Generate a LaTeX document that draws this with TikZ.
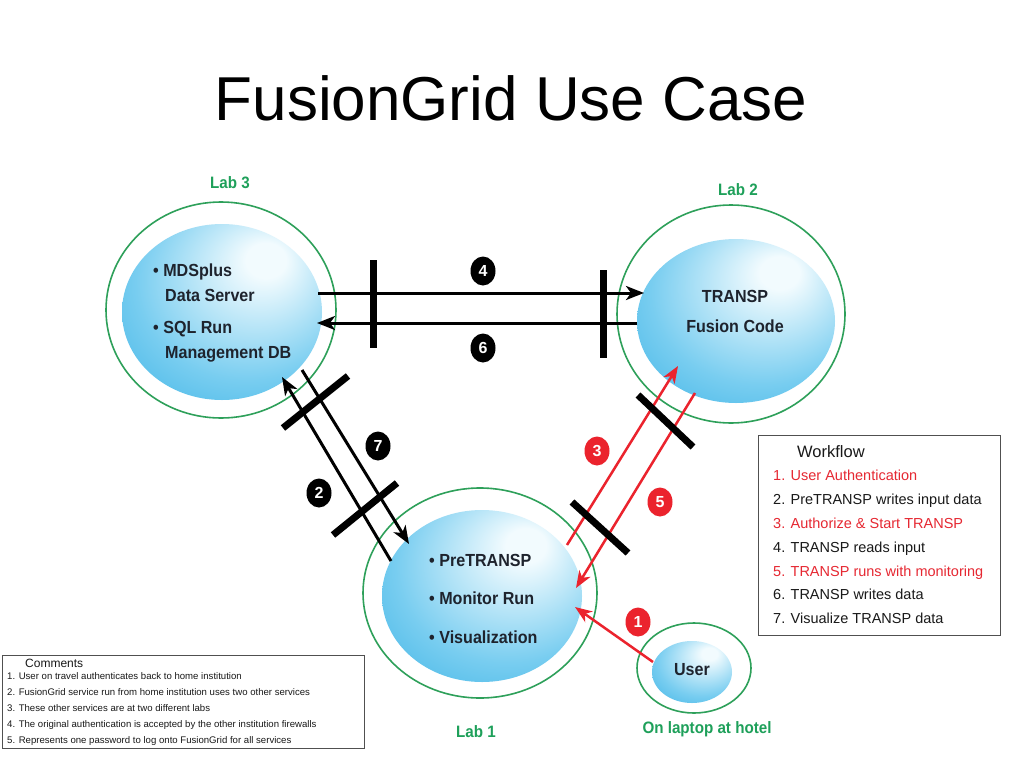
\documentclass[tikz,border=0pt]{standalone}
\usepackage{fontspec}
\setmainfont{Liberation Sans}
\newfontfamily\bubfont{Liberation Sans}[FakeStretch=0.92]
\usetikzlibrary{shapes.geometric,arrows.meta}
\definecolor{ringgreen}{RGB}{46,160,90}
\definecolor{labgreen}{RGB}{30,160,90}
\definecolor{bubedge}{RGB}{35,168,225}
\definecolor{bubmid}{RGB}{120,205,240}
\definecolor{bubhi}{RGB}{242,251,254}
\definecolor{arrred}{RGB}{235,35,45}
\definecolor{txtred}{RGB}{230,40,50}
\definecolor{bubtext}{RGB}{30,35,45}
\definecolor{boxgray}{RGB}{80,80,80}
\pgfdeclareradialshading{bubble}{\pgfpoint{12bp}{16bp}}{color(0bp)=(bubhi); color(5bp)=(bubhi); color(28bp)=(bubmid); color(50bp)=(bubedge); color(60bp)=(bubedge)}
\begin{document}
\begin{tikzpicture}[x=1pt,y=-1pt,
  labring/.style={ellipse,draw=ringgreen,line width=1.6pt,inner sep=0pt},
  bub/.style={ellipse,shading=bubble,inner sep=0pt},
  btext/.style={font=\bubfont\bfseries\fontsize{17.5}{17.5}\selectfont,text=bubtext,inner sep=0pt,anchor=base west},
  ctext/.style={btext,anchor=base},
  labname/.style={font=\bubfont\bfseries\fontsize{16.5}{16.5}\selectfont,text=labgreen,inner sep=0pt,anchor=base},
  blackarrow/.style={line width=3pt,-{Stealth[length=18pt,width=14pt,inset=5pt]}},
  redarrow/.style={draw=arrred,line width=2.5pt,-{Stealth[length=17pt,width=13pt,inset=5pt]}},
  barrier/.style={line width=7pt},
  numb/.style={ellipse,fill=black,text=white,minimum width=25pt,minimum height=29pt,inner sep=0pt,font=\bfseries\fontsize{16}{16}\selectfont},
  numr/.style={numb,fill=arrred},
  wfitem/.style={font=\fontsize{14.5}{14.5}\selectfont,inner sep=0pt,anchor=base west,text=black!90},
  wfred/.style={wfitem,text=txtred},
  cmtitem/.style={font=\fontsize{9.6}{9.6}\selectfont,inner sep=0pt,anchor=base west,text=black!90}
]
\fill[white] (0,0) rectangle (1024,768);
\useasboundingbox (0,0) rectangle (1024,768);

% title
\node[font=\fontsize{62}{62}\selectfont,anchor=base,inner sep=0pt] (title) at (511,120) {FusionGrid Use Case};

% rings and bubbles
\node[labring,minimum width=230pt,minimum height=216pt] (ring3) at (221,310) {};
\node[labring,minimum width=228pt,minimum height=218pt] (ring2) at (731,314) {};
\node[labring,minimum width=234pt,minimum height=210pt] (ring1) at (480,593) {};
\node[labring,minimum width=114pt,minimum height=90pt] (ringu) at (694,668) {};
\node[bub,minimum width=200pt,minimum height=176pt] (lab3) at (222,312) {};
\node[bub,minimum width=198pt,minimum height=164pt] (lab2) at (736,321) {};
\node[bub,minimum width=200pt,minimum height=172pt] (lab1) at (482,596) {};
\node[bub,minimum width=80pt,minimum height=62pt] (user) at (692,672) {};

% lab labels
\node[labname] (l3) at (230,188) {Lab 3};
\node[labname] (l2) at (738,195) {Lab 2};
\node[labname] (l1) at (476,737) {Lab 1};
\node[labname] (lu) at (707,733) {On laptop at hotel};

% bubble texts
\node[btext] (t3a) at (153,276) {\textbullet\ MDSplus};
\node[btext] (t3b) at (165,301) {Data Server};
\node[btext] (t3c) at (153,333) {\textbullet\ SQL Run};
\node[btext] (t3d) at (165,358) {Management DB};
\node[ctext] (t2a) at (735,302) {TRANSP};
\node[ctext] (t2b) at (735,332) {Fusion Code};
\node[btext] (t1a) at (429,566) {\textbullet\ PreTRANSP};
\node[btext] (t1b) at (429,604) {\textbullet\ Monitor Run};
\node[btext] (t1c) at (429,643) {\textbullet\ Visualization};
\node[ctext] (tu) at (692,675) {User};

% arrow end points
\coordinate (a4s) at (318,293); \coordinate (a4e) at (644,293);
\coordinate (a6s) at (637,323); \coordinate (a6e) at (317,323);
\coordinate (a2s) at (391,561); \coordinate (a2e) at (282,377);
\coordinate (a7s) at (302,370); \coordinate (a7e) at (409,544);
\coordinate (a3s) at (567,545); \coordinate (a3e) at (678,366);
\coordinate (a5s) at (695,393); \coordinate (a5e) at (576,588);
\coordinate (a1s) at (653,662); \coordinate (a1e) at (575,607);

\draw[blackarrow] (a4s) -- (a4e);
\draw[blackarrow] (a6s) -- (a6e);
\draw[blackarrow] (a2s) -- (a2e);
\draw[blackarrow] (a7s) -- (a7e);
\draw[redarrow] (a3s) -- (a3e);
\draw[redarrow] (a5s) -- (a5e);
\draw[redarrow] (a1s) -- (a1e);

% firewalls
\coordinate (b1a) at (373,260); \coordinate (b1b) at (373,348);
\coordinate (b2a) at (603,270); \coordinate (b2b) at (603,358);
\coordinate (b3a) at (283,428); \coordinate (b3b) at (348,376);
\coordinate (b4a) at (333,535); \coordinate (b4b) at (397,483);
\coordinate (b5a) at (638,395); \coordinate (b5b) at (693,447);
\coordinate (b6a) at (572,502); \coordinate (b6b) at (628,553);
\draw[barrier] (b1a) -- (b1b);
\draw[barrier] (b2a) -- (b2b);
\draw[barrier] (b3a) -- (b3b);
\draw[barrier] (b4a) -- (b4b);
\draw[barrier] (b5a) -- (b5b);
\draw[barrier] (b6a) -- (b6b);

% step numbers
\node[numb] (n4) at (483,271) {4};
\node[numb] (n6) at (483,348) {6};
\node[numb] (n7) at (378,446) {7};
\node[numb] (n2) at (319,493) {2};
\node[numr] (n3) at (597,451) {3};
\node[numr] (n5) at (660,502) {5};
\node[numr] (n1) at (638,622) {1};

% workflow box
\node[draw=boxgray,line width=1.2pt,anchor=north west,minimum width=242pt,minimum height=200pt,inner sep=0pt] (wfbox) at (758,435) {};
\node[font=\fontsize{16.5}{16.5}\selectfont,inner sep=0pt,anchor=base west,text=black!90] (wft) at (797,457) {Workflow};
\node[wfred] (w1) at (773,480) {1. User Authentication};
\node[wfitem] (w2) at (773,504) {2. PreTRANSP writes input data};
\node[wfred] (w3) at (773,528) {3. Authorize \& Start TRANSP};
\node[wfitem] (w4) at (773,552) {4. TRANSP reads input};
\node[wfred] (w5) at (773,576) {5. TRANSP runs with monitoring};
\node[wfitem] (w6) at (773,599) {6. TRANSP writes data};
\node[wfitem] (w7) at (773,623) {7. Visualize TRANSP data};

% comments box
\node[draw=boxgray,line width=0.9pt,anchor=north west,minimum width=362pt,minimum height=93pt,inner sep=0pt] (cbox) at (2,655) {};
\node[font=\fontsize{12}{12}\selectfont,inner sep=0pt,anchor=base west,text=black!90] (ct) at (25,667) {Comments};
\node[cmtitem] (c1) at (7,679) {1. User on travel authenticates back to home institution};
\node[cmtitem] (c2) at (7,695) {2. FusionGrid service run from home institution uses two other services};
\node[cmtitem] (c3) at (7,711) {3. These other services are at two different labs};
\node[cmtitem] (c4) at (7,727) {4. The original authentication is accepted by the other institution firewalls};
\node[cmtitem] (c5) at (7,743) {5. Represents one password to log onto FusionGrid for all services};
\end{tikzpicture}
\end{document}
